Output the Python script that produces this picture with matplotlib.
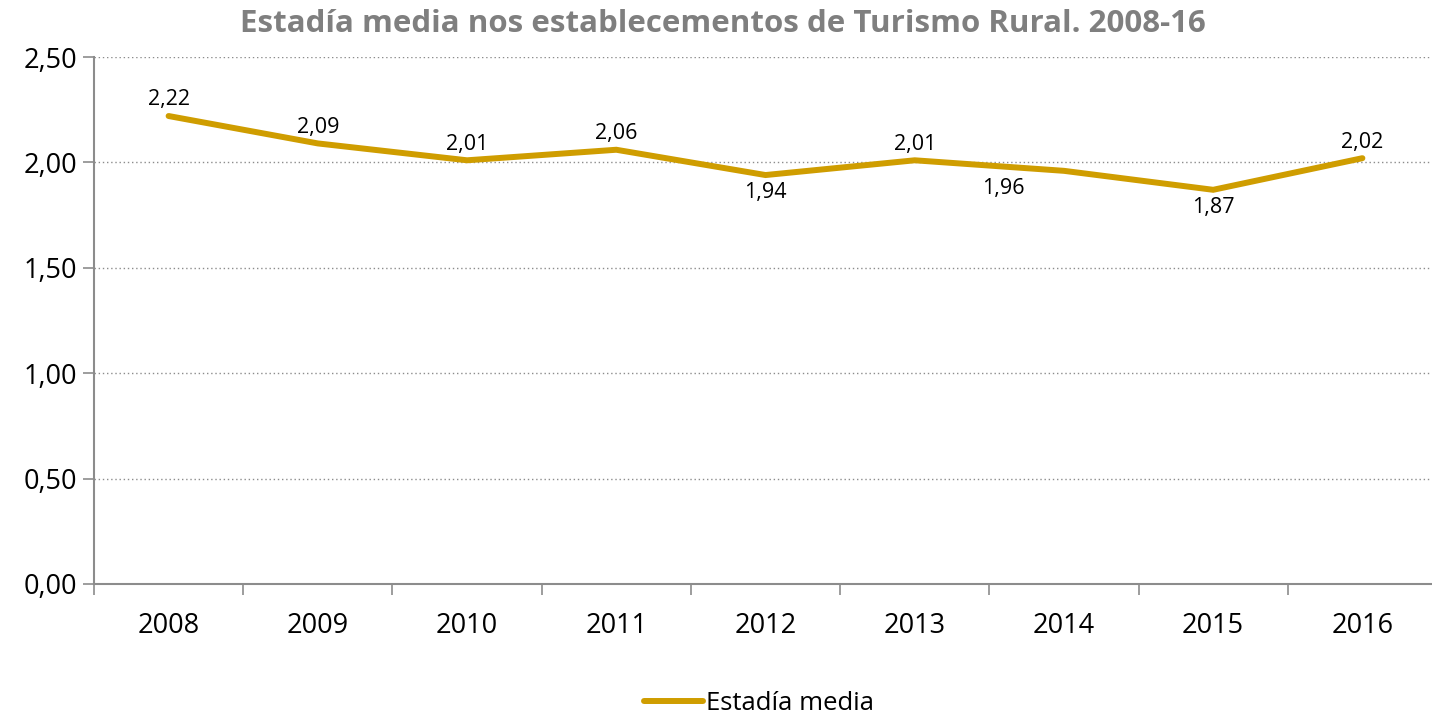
import numpy as np
import matplotlib
matplotlib.use("Agg")
import matplotlib.pyplot as plt

plt.rcParams['font.family'] = ['Open Sans', 'DejaVu Sans']

# data
years = ['2008', '2009', '2010', '2011', '2012', '2013', '2014', '2015', '2016']
estadia = [2.22, 2.09, 2.01, 2.06, 1.94, 2.01, 1.96, 1.87, 2.02]
label_pos = ['above', 'above', 'above', 'above', 'below', 'above', 'below', 'below', 'above']
yticks = [0.0, 0.5, 1.0, 1.5, 2.0, 2.5]

# the 2014 label sits a bit to the left in the original
label_dx = [0, 0, 0, 0, 0, 0, -44, 0, 0]

gold = '#CF9D00'
axis_grey = '#8C8C8C'

fig = plt.figure(figsize=(14.32, 7.16), dpi=100)
ax = fig.add_axes([94/1432, 1 - 584/716, (1437 - 94)/1432, (584 - 57)/716])

x = np.arange(len(years))
line, = ax.plot(x, estadia, color=gold, lw=4.3, solid_capstyle='round',
                solid_joinstyle='miter', label='Estadía media', zorder=3)

# data labels
for xi, v, pos, dx in zip(x, estadia, label_pos, label_dx):
    txt = f'{v:.2f}'.replace('.', ',')
    if pos == 'above':
        ax.annotate(txt, (xi, v), xytext=(dx, 4), textcoords='offset points',
                    ha='center', va='bottom', fontsize=15.5)
    else:
        ax.annotate(txt, (xi, v), xytext=(dx, -5), textcoords='offset points',
                    ha='center', va='top', fontsize=15.5)

ax.set_xlim(-0.5, len(years) - 0.5)
ax.set_ylim(0, 2.5)
ax.set_yticks(yticks)
ax.set_yticklabels([f'{t:.2f}'.replace('.', ',') for t in yticks], fontsize=19.5)
ax.set_xticks(x)
ax.set_xticklabels(years, fontsize=19.5)
ax.tick_params(axis='x', length=0, pad=20)
ax.set_xticks(np.arange(len(years) + 1) - 0.5, minor=True)
ax.tick_params(axis='x', which='minor', length=8, color=axis_grey, width=1.2)
ax.tick_params(axis='y', length=8, color=axis_grey, width=1.2, pad=4)

ax.yaxis.grid(True, linestyle=(0, (1, 2)), color='#8C8C8C', lw=1)
ax.set_axisbelow(True)
for s in ['top', 'right']:
    ax.spines[s].set_visible(False)
for s in ['left', 'bottom']:
    ax.spines[s].set_color(axis_grey)
    ax.spines[s].set_linewidth(1.5)

fig.text(0.505, 0.966, 'Estadía media nos establecementos de Turismo Rural. 2008-16',
         ha='center', va='center', fontsize=22.5, fontweight='bold', color='#7F7F7F')

fig.legend(handles=[line], loc='center', bbox_to_anchor=(0.53, 0.017),
           frameon=False, fontsize=18.5, handlelength=2.3, handletextpad=0.1)

fig.savefig('out.png', dpi=100)
